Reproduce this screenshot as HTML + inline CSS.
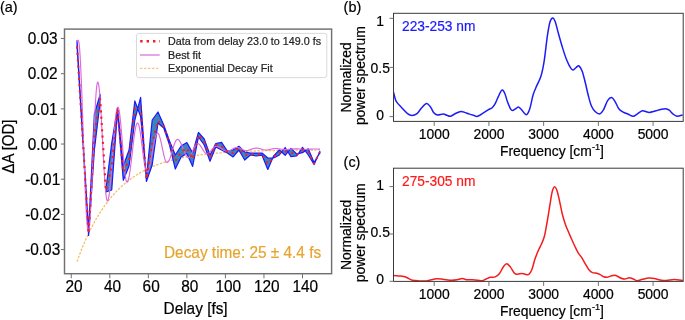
<!DOCTYPE html>
<html><head><meta charset="utf-8"><style>
html,body{margin:0;padding:0;background:#fff;}
#w{width:685px;height:320px;will-change:transform;}
svg{display:block;}
text{font-family:"Liberation Sans", sans-serif;stroke:#000;stroke-width:0.2px;}
.ta{font-size:15.4px;}
.tb{font-size:13.9px;}
.tl{font-size:10.75px;}
.tg{font-size:14.4px;}
.tt{font-size:13.75px;}
</style></head><body><div id="w">
<svg width="685" height="320" viewBox="0 0 685 320">
<rect width="685" height="320" fill="#fff"/>
<defs><clipPath id="ca"><rect x="64.5" y="28.75" width="267.1" height="244.75"/></clipPath></defs>
<g clip-path="url(#ca)">
<polyline points="77.00,261.61 78.00,258.85 79.00,256.15 80.00,253.52 81.00,250.96 82.00,248.46 83.00,246.02 84.00,243.64 85.00,241.32 86.00,239.06 87.00,236.85 88.00,234.70 89.00,232.60 90.00,230.56 91.00,228.56 92.00,226.61 93.00,224.71 94.00,222.86 95.00,221.06 96.00,219.29 97.00,217.58 98.00,215.90 99.00,214.27 100.00,212.67 101.00,211.12 102.00,209.60 103.00,208.12 104.00,206.68 105.00,205.27 106.00,203.90 107.00,202.56 108.00,201.26 109.00,199.99 110.00,198.75 111.00,197.53 112.00,196.35 113.00,195.20 114.00,194.08 115.00,192.98 116.00,191.92 117.00,190.87 118.00,189.86 119.00,188.87 120.00,187.90 121.00,186.96 122.00,186.04 123.00,185.14 124.00,184.27 125.00,183.41 126.00,182.58 127.00,181.77 128.00,180.98 129.00,180.21 130.00,179.46 131.00,178.72 132.00,178.01 133.00,177.31 134.00,176.63 135.00,175.96 136.00,175.31 137.00,174.68 138.00,174.07 139.00,173.47 140.00,172.88 141.00,172.31 142.00,171.75 143.00,171.21 144.00,170.68 145.00,170.16 146.00,169.66 147.00,169.16 148.00,168.68 149.00,168.22 150.00,167.76 151.00,167.31 152.00,166.88 153.00,166.46 154.00,166.04 155.00,165.64 156.00,165.25 157.00,164.86 158.00,164.49 159.00,164.13 160.00,163.77 161.00,163.42 162.00,163.09 163.00,162.76 164.00,162.44 165.00,162.12 166.00,161.82 167.00,161.52 168.00,161.23 169.00,160.94 170.00,160.67 171.00,160.40 172.00,160.13 173.00,159.88 174.00,159.63 175.00,159.38 176.00,159.14 177.00,158.91 178.00,158.68 179.00,158.46 180.00,158.25 181.00,158.04 182.00,157.83 183.00,157.63 184.00,157.44 185.00,157.25 186.00,157.06 187.00,156.88 188.00,156.71 189.00,156.53 190.00,156.37 191.00,156.20 192.00,156.04 193.00,155.89 194.00,155.73 195.00,155.59 196.00,155.44 197.00,155.30 198.00,155.16 199.00,155.03 200.00,154.90 201.00,154.77 202.00,154.65 203.00,154.53 204.00,154.41 205.00,154.29 206.00,154.18 207.00,154.07 208.00,153.96 209.00,153.86 210.00,153.76 211.00,153.66 212.00,153.56 213.00,153.47 214.00,153.38 215.00,153.29 216.00,153.20 217.00,153.11 218.00,153.03 219.00,152.95 220.00,152.87 221.00,152.79 222.00,152.72 223.00,152.64 224.00,152.57 225.00,152.50 226.00,152.43 227.00,152.37 228.00,152.30 229.00,152.24 230.00,152.18 231.00,152.12 232.00,152.06 233.00,152.00 234.00,151.94 235.00,151.89 236.00,151.84 237.00,151.78 238.00,151.73 239.00,151.69 240.00,151.64 241.00,151.59 242.00,151.54 243.00,151.50 244.00,151.46 245.00,151.41 246.00,151.37 247.00,151.33 248.00,151.29 249.00,151.25 250.00,151.22 251.00,151.18 252.00,151.15 253.00,151.11 254.00,151.08 255.00,151.04 256.00,151.01 257.00,150.98 258.00,150.95 259.00,150.92 260.00,150.89 261.00,150.86 262.00,150.83 263.00,150.81 264.00,150.78 265.00,150.76 266.00,150.73 267.00,150.71 268.00,150.68 269.00,150.66 270.00,150.64 271.00,150.61 272.00,150.59 273.00,150.57 274.00,150.55 275.00,150.53 276.00,150.51 277.00,150.49 278.00,150.47 279.00,150.46 280.00,150.44 281.00,150.42 282.00,150.40 283.00,150.39 284.00,150.37 285.00,150.36 286.00,150.34 287.00,150.33 288.00,150.31 289.00,150.30 290.00,150.28 291.00,150.27 292.00,150.26 293.00,150.24 294.00,150.23 295.00,150.22 296.00,150.21 297.00,150.20 298.00,150.18 299.00,150.17 300.00,150.16 301.00,150.15 302.00,150.14 303.00,150.13 304.00,150.12 305.00,150.11 306.00,150.10 307.00,150.10 308.00,150.09 309.00,150.08 310.00,150.07 311.00,150.06 312.00,150.05 313.00,150.05 314.00,150.04 315.00,150.03 316.00,150.02 317.00,150.02 318.00,150.01 319.00,150.00 320.00,150.00" fill="none" stroke="#f2b860" stroke-width="1.2" stroke-dasharray="2.4,1.4"/>
<polygon points="77.03,40.70 82.81,137.00 88.59,231.00 94.37,114.00 100.15,94.50 100.15,101.80 94.37,150.00 88.59,235.50 82.81,141.00 77.03,46.00" fill="#3d83bf" stroke="#1a1aff" stroke-width="1.2" stroke-linejoin="round"/>
<polygon points="105.94,189.00 111.72,143.00 117.50,107.80 123.28,166.00 129.06,150.00 134.84,100.90 140.62,116.50 146.40,178.00 152.19,120.00 157.97,112.00 163.75,125.00 169.53,141.00 175.31,155.00 181.09,146.00 186.87,142.60 192.65,153.00 198.44,132.30 204.22,139.00 210.00,155.00 215.78,143.50 221.56,142.30 227.34,151.00 233.12,150.00 238.90,146.25 244.68,152.00 250.47,153.10 256.25,153.10 262.03,153.00 267.81,158.00 273.59,158.00 279.37,155.00 285.15,147.50 290.93,156.60 296.72,156.00 302.50,147.40 308.28,155.00 314.06,164.50 319.84,151.40 319.84,153.00 314.06,162.50 308.28,148.75 302.50,152.70 296.72,154.00 290.93,148.40 285.15,155.30 279.37,150.00 273.59,156.00 267.81,169.50 262.03,155.20 256.25,156.00 250.47,155.00 244.68,160.00 238.90,150.00 233.12,156.90 227.34,153.00 221.56,150.00 215.78,147.00 210.00,161.25 204.22,145.00 198.44,137.00 192.65,166.50 186.87,153.50 181.09,157.00 175.31,169.00 169.53,145.00 163.75,128.00 157.97,123.00 152.19,165.00 146.40,181.50 140.62,97.30 134.84,120.00 129.06,166.00 123.28,180.30 117.50,111.00 111.72,190.00 105.94,192.00" fill="#3d83bf" stroke="#1a1aff" stroke-width="1.2" stroke-linejoin="round"/>
<polyline points="77.00,41.50 77.62,40.85 78.25,40.20 78.75,41.37 79.25,44.87 79.76,50.60 80.26,58.42 80.76,68.14 81.27,79.53 81.77,92.29 82.27,106.12 82.77,120.68 83.28,135.60 83.78,150.52 84.28,165.08 84.78,178.91 85.28,191.67 85.79,203.06 86.29,212.78 86.79,220.60 87.30,226.33 87.80,229.83 88.30,231.00 88.83,229.87 89.35,226.51 89.88,221.02 90.40,213.57 90.92,204.39 91.45,193.75 91.97,181.98 92.50,169.44 93.03,156.50 93.55,143.56 94.08,131.02 94.60,119.25 95.12,108.61 95.65,99.43 96.17,91.98 96.70,86.49 97.22,83.13 97.75,82.00 98.26,82.81 98.77,85.22 99.27,89.17 99.78,94.55 100.29,101.20 100.80,108.96 101.31,117.60 101.81,126.89 102.32,136.59 102.83,146.41 103.34,156.11 103.84,165.40 104.35,174.04 104.86,181.80 105.37,188.45 105.88,193.83 106.38,197.78 106.89,200.19 107.40,201.00 107.90,200.48 108.40,198.91 108.90,196.35 109.40,192.84 109.90,188.47 110.40,183.32 110.90,177.53 111.40,171.20 111.90,164.50 112.40,157.56 112.90,150.54 113.40,143.60 113.90,136.90 114.40,130.57 114.90,124.78 115.40,119.63 115.90,115.26 116.40,111.75 116.90,109.19 117.40,107.62 117.90,107.10 118.41,107.67 118.91,109.36 119.42,112.13 119.92,115.89 120.43,120.51 120.93,125.87 121.44,131.81 121.94,138.13 122.45,144.65 122.96,151.17 123.46,157.49 123.97,163.42 124.47,168.79 124.98,173.41 125.48,177.17 125.99,179.94 126.49,181.63 127.00,182.20 127.50,181.87 128.00,180.88 128.50,179.27 129.00,177.06 129.50,174.30 130.00,171.06 130.50,167.40 131.00,163.41 131.50,159.19 132.00,154.81 132.50,150.39 133.00,146.01 133.50,141.79 134.00,137.80 134.50,134.14 135.00,130.90 135.50,128.14 136.00,125.93 136.50,124.32 137.00,123.33 137.50,123.00 138.00,123.33 138.50,124.33 139.00,125.95 139.50,128.17 140.00,130.91 140.50,134.10 141.00,137.66 141.50,141.49 142.00,145.48 142.50,149.52 143.00,153.51 143.50,157.34 144.00,160.90 144.50,164.09 145.00,166.83 145.50,169.05 146.00,170.67 146.50,171.67 147.00,172.00 147.50,171.78 148.00,171.14 148.50,170.07 149.00,168.62 149.50,166.81 150.00,164.68 150.50,162.28 151.00,159.66 151.50,156.88 152.00,154.00 152.50,151.10 153.00,148.22 153.50,145.44 154.00,142.82 154.50,140.42 155.00,138.29 155.50,136.48 156.00,135.03 156.50,133.96 157.00,133.32 157.50,133.10 158.00,133.30 158.50,133.90 159.00,134.87 159.50,136.20 160.00,137.84 160.50,139.76 161.00,141.90 161.50,144.19 162.00,146.59 162.50,149.01 163.00,151.41 163.50,153.70 164.00,155.84 164.50,157.76 165.00,159.40 165.50,160.73 166.00,161.70 166.50,162.30 167.00,162.50 167.50,162.37 168.00,161.99 168.50,161.36 169.00,160.49 169.50,159.42 170.00,158.15 170.50,156.72 171.00,155.17 171.50,153.52 172.00,151.81 172.50,150.09 173.00,148.38 173.50,146.73 174.00,145.18 174.50,143.75 175.00,142.48 175.50,141.41 176.00,140.54 176.50,139.91 177.00,139.53 177.50,139.40 178.00,139.49 178.50,139.77 179.00,140.22 179.50,140.84 180.00,141.61 180.50,142.52 181.00,143.56 181.50,144.69 182.00,145.90 182.50,147.16 183.00,148.45 183.50,149.74 184.00,151.00 184.50,152.21 185.00,153.34 185.50,154.38 186.00,155.29 186.50,156.06 187.00,156.68 187.50,157.13 188.00,157.41 188.50,157.50 189.00,157.39 189.50,157.08 190.00,156.56 190.50,155.86 191.00,155.00 191.50,154.00 192.00,152.89 192.50,151.72 193.00,150.50 193.50,149.28 194.00,148.11 194.50,147.00 195.00,146.00 195.50,145.14 196.00,144.44 196.50,143.92 197.00,143.61 197.50,143.50 198.00,143.57 198.50,143.78 199.00,144.12 199.50,144.58 200.00,145.15 200.50,145.82 201.00,146.57 201.50,147.37 202.00,148.20 202.50,149.05 203.00,149.88 203.50,150.68 204.00,151.43 204.50,152.10 205.00,152.67 205.50,153.13 206.00,153.47 206.50,153.68 207.00,153.75 207.51,153.69 208.03,153.52 208.54,153.25 209.06,152.87 209.57,152.41 210.08,151.88 210.60,151.28 211.11,150.65 211.62,150.00 212.14,149.35 212.65,148.72 213.17,148.12 213.68,147.59 214.19,147.13 214.71,146.75 215.22,146.48 215.74,146.31 216.25,146.25 216.76,146.28 217.27,146.36 217.79,146.50 218.30,146.68 218.81,146.92 219.32,147.19 219.83,147.50 220.35,147.84 220.86,148.19 221.37,148.56 221.88,148.94 222.39,149.31 222.90,149.66 223.42,150.00 223.93,150.31 224.44,150.58 224.95,150.82 225.46,151.00 225.98,151.14 226.49,151.22 227.00,151.25 227.50,151.23 228.00,151.16 228.50,151.05 229.00,150.89 229.50,150.70 230.00,150.48 230.50,150.23 231.00,149.95 231.50,149.67 232.00,149.38 232.50,149.08 233.00,148.80 233.50,148.52 234.00,148.27 234.50,148.05 235.00,147.86 235.50,147.70 236.00,147.59 236.50,147.52 237.00,147.50 237.50,147.52 238.00,147.59 238.50,147.71 239.00,147.86 239.50,148.05 240.00,148.28 240.50,148.52 241.00,148.78 241.50,149.05 242.00,149.32 242.50,149.58 243.00,149.82 243.50,150.05 244.00,150.24 244.50,150.39 245.00,150.51 245.50,150.58 246.00,150.60 246.51,150.58 247.03,150.54 247.54,150.46 248.05,150.36 248.56,150.23 249.07,150.08 249.59,149.92 250.10,149.74 250.61,149.55 251.12,149.35 251.64,149.15 252.15,148.96 252.66,148.78 253.18,148.62 253.69,148.47 254.20,148.34 254.71,148.24 255.22,148.16 255.74,148.12 256.25,148.10 256.76,148.11 257.28,148.15 257.79,148.21 258.30,148.30 258.82,148.41 259.33,148.53 259.84,148.67 260.36,148.82 260.87,148.97 261.38,149.13 261.89,149.28 262.41,149.43 262.92,149.57 263.43,149.69 263.95,149.80 264.46,149.89 264.97,149.95 265.49,149.99 266.00,150.00 266.51,149.99 267.01,149.96 267.52,149.91 268.02,149.84 268.53,149.76 269.03,149.66 269.54,149.55 270.04,149.43 270.55,149.31 271.05,149.19 271.56,149.07 272.06,148.95 272.57,148.84 273.07,148.74 273.58,148.66 274.08,148.59 274.59,148.54 275.09,148.51 275.60,148.50 276.12,148.51 276.64,148.53 277.17,148.57 277.69,148.63 278.21,148.70 278.73,148.78 279.26,148.86 279.78,148.95 280.30,149.05 280.82,149.15 281.34,149.24 281.87,149.32 282.39,149.40 282.91,149.47 283.43,149.53 283.96,149.57 284.48,149.59 285.00,149.60 285.50,149.60 286.00,149.58 286.50,149.56 287.00,149.52 287.50,149.48 288.00,149.44 288.50,149.38 289.00,149.32 289.50,149.26 290.00,149.20 290.50,149.14 291.00,149.08 291.50,149.02 292.00,148.96 292.50,148.92 293.00,148.88 293.50,148.84 294.00,148.82 294.50,148.80 295.00,148.80 295.50,148.80 296.00,148.81 296.50,148.83 297.00,148.85 297.50,148.87 298.00,148.90 298.50,148.94 299.00,148.97 299.50,149.01 300.00,149.05 300.50,149.09 301.00,149.13 301.50,149.16 302.00,149.20 302.50,149.23 303.00,149.25 303.50,149.27 304.00,149.29 304.50,149.30 305.00,149.30 305.50,149.30 306.00,149.29 306.50,149.28 307.00,149.27 307.50,149.26 308.00,149.24 308.50,149.22 309.00,149.20 309.50,149.17 310.00,149.15 310.50,149.13 311.00,149.10 311.50,149.08 312.00,149.06 312.50,149.04 313.00,149.03 313.50,149.02 314.00,149.01 314.50,149.00 315.00,149.00 315.50,149.00 316.00,149.01 316.50,149.02 317.00,149.03 317.50,149.05 318.00,149.07 318.50,149.08 319.00,149.09 319.50,149.10 320.00,149.10" fill="none" stroke="#dd68dc" stroke-width="1.15" stroke-linejoin="round"/>
<polyline points="77.03,46.50 82.81,139.00 88.59,233.50 94.37,135.00 100.15,99.00 105.94,190.50 111.72,166.00 117.50,109.00 123.28,172.00 129.06,160.00 134.84,108.00 140.62,108.00 146.40,179.00 152.19,143.00 157.97,121.00 163.75,126.50 169.53,143.00 175.31,161.00 181.09,152.00 186.87,148.00 192.65,159.00 198.44,135.00 204.22,142.00 210.00,158.00 215.78,145.00 221.56,146.00 227.34,152.00 233.12,153.00 238.90,148.00 244.68,155.00 250.47,154.00 256.25,154.50 262.03,154.20 267.81,164.00 273.59,157.00 279.37,152.50 285.15,151.40 290.93,152.50 296.72,155.00 302.50,150.00 308.28,152.00 314.06,163.50 319.84,152.20" fill="none" stroke="#f02020" stroke-width="2.1" stroke-dasharray="2.1,4.2" stroke-linejoin="round"/>
</g>
<rect x="136.5" y="33.4" width="190.3" height="44.2" rx="2.5" ry="2.5" fill="#fff" fill-opacity="0.8" stroke="#d6d6d6" stroke-width="0.9"/>
<line x1="140.2" y1="41.3" x2="160" y2="41.3" stroke="#f51c1c" stroke-width="2.4" stroke-dasharray="2.4,4.0"/>
<line x1="139.9" y1="55" x2="159.7" y2="55" stroke="#dc74dc" stroke-width="1.3"/>
<line x1="139.9" y1="68.4" x2="159.7" y2="68.4" stroke="#f5c585" stroke-width="1.2" stroke-dasharray="2.5,1.5"/>
<text x="168.1" y="45.2" class="tl" style="fill:#222;stroke:#222">Data from delay 23.0 to 149.0 fs</text>
<text x="168.1" y="58.9" class="tl" style="fill:#222;stroke:#222">Best fit</text>
<text x="168.1" y="71.95" class="tl" style="fill:#222;stroke:#222">Exponential Decay Fit</text>
<rect x="64.5" y="29.1" width="267.1" height="244.6" fill="none" stroke="#707070" stroke-width="1.45"/>
<line x1="60.9" y1="38.50" x2="64.5" y2="38.50" stroke="#707070" stroke-width="1"/>
<text transform="translate(42.70,44.30) scale(1,1.05)" text-anchor="middle" class="ta">0.03</text>
<line x1="60.9" y1="73.68" x2="64.5" y2="73.68" stroke="#707070" stroke-width="1"/>
<text transform="translate(42.70,79.48) scale(1,1.05)" text-anchor="middle" class="ta">0.02</text>
<line x1="60.9" y1="108.86" x2="64.5" y2="108.86" stroke="#707070" stroke-width="1"/>
<text transform="translate(42.70,114.66) scale(1,1.05)" text-anchor="middle" class="ta">0.01</text>
<line x1="60.9" y1="144.04" x2="64.5" y2="144.04" stroke="#707070" stroke-width="1"/>
<text transform="translate(42.70,149.84) scale(1,1.05)" text-anchor="middle" class="ta">0.00</text>
<line x1="60.9" y1="179.22" x2="64.5" y2="179.22" stroke="#707070" stroke-width="1"/>
<text transform="translate(42.70,185.02) scale(1,1.05)" text-anchor="middle" class="ta">-0.01</text>
<line x1="60.9" y1="214.40" x2="64.5" y2="214.40" stroke="#707070" stroke-width="1"/>
<text transform="translate(42.70,220.20) scale(1,1.05)" text-anchor="middle" class="ta">-0.02</text>
<line x1="60.9" y1="249.58" x2="64.5" y2="249.58" stroke="#707070" stroke-width="1"/>
<text transform="translate(42.70,255.38) scale(1,1.05)" text-anchor="middle" class="ta">-0.03</text>
<line x1="71.25" y1="273.7" x2="71.25" y2="278.3" stroke="#707070" stroke-width="1"/>
<text transform="translate(74.05,291.90) scale(1,1.05)" text-anchor="middle" class="ta">20</text>
<line x1="109.79" y1="273.7" x2="109.79" y2="278.3" stroke="#707070" stroke-width="1"/>
<text transform="translate(112.59,291.90) scale(1,1.05)" text-anchor="middle" class="ta">40</text>
<line x1="148.33" y1="273.7" x2="148.33" y2="278.3" stroke="#707070" stroke-width="1"/>
<text transform="translate(151.13,291.90) scale(1,1.05)" text-anchor="middle" class="ta">60</text>
<line x1="186.88" y1="273.7" x2="186.88" y2="278.3" stroke="#707070" stroke-width="1"/>
<text transform="translate(189.68,291.90) scale(1,1.05)" text-anchor="middle" class="ta">80</text>
<line x1="225.42" y1="273.7" x2="225.42" y2="278.3" stroke="#707070" stroke-width="1"/>
<text transform="translate(228.22,291.90) scale(1,1.05)" text-anchor="middle" class="ta">100</text>
<line x1="263.96" y1="273.7" x2="263.96" y2="278.3" stroke="#707070" stroke-width="1"/>
<text transform="translate(266.76,291.90) scale(1,1.05)" text-anchor="middle" class="ta">120</text>
<line x1="302.50" y1="273.7" x2="302.50" y2="278.3" stroke="#707070" stroke-width="1"/>
<text transform="translate(305.30,291.90) scale(1,1.05)" text-anchor="middle" class="ta">140</text>
<text transform="translate(195.60,313.60) scale(1,1.05)" text-anchor="middle" class="ta">Delay [fs]</text>
<text transform="translate(14.40,146.60) rotate(-90) scale(1,1.05)" text-anchor="middle" class="ta" style="font-size:14.95px">ΔA [OD]</text>
<text transform="translate(164.00,257.90) scale(1,1.05)" class="ta" style="fill:#e6a531;stroke:#e6a531">Decay time: 25 ± 4.4 fs</text>
<text transform="translate(0.00,11.60)" class="tg">(a)</text>
<path d="M393.60,92.40 C393.83,93.33 394.50,96.42 395.00,98.00 C395.50,99.58 395.48,100.28 396.60,101.90 C397.72,103.52 399.88,105.75 401.70,107.70 C403.52,109.65 405.80,112.30 407.50,113.60 C409.20,114.90 410.32,115.50 411.90,115.50 C413.48,115.50 415.40,114.85 417.00,113.60 C418.60,112.35 419.92,109.70 421.50,108.00 C423.08,106.30 425.00,103.57 426.50,103.40 C428.00,103.23 429.28,105.43 430.50,107.00 C431.72,108.57 432.65,111.47 433.80,112.80 C434.95,114.13 435.82,114.80 437.40,115.00 C438.98,115.20 441.72,113.95 443.30,114.00 C444.88,114.05 445.68,114.93 446.90,115.30 C448.12,115.67 449.17,116.50 450.60,116.20 C452.03,115.90 453.80,114.30 455.50,113.50 C457.20,112.70 459.18,111.55 460.80,111.40 C462.42,111.25 463.87,112.18 465.20,112.60 C466.53,113.02 467.42,113.45 468.80,113.90 C470.18,114.35 472.03,114.90 473.50,115.30 C474.97,115.70 475.83,116.78 477.60,116.30 C479.37,115.82 482.35,113.48 484.10,112.40 C485.85,111.32 486.75,110.58 488.10,109.80 C489.45,109.02 491.02,108.72 492.20,107.70 C493.38,106.68 494.18,105.55 495.20,103.70 C496.22,101.85 497.18,98.87 498.30,96.60 C499.42,94.33 500.82,90.62 501.90,90.10 C502.98,89.58 503.88,91.58 504.80,93.50 C505.72,95.42 506.45,99.05 507.40,101.60 C508.35,104.15 509.58,107.33 510.50,108.80 C511.42,110.27 511.95,110.48 512.90,110.40 C513.85,110.32 515.25,108.85 516.20,108.30 C517.15,107.75 517.70,106.85 518.60,107.10 C519.50,107.35 520.32,108.52 521.60,109.80 C522.88,111.08 524.93,114.97 526.30,114.80 C527.67,114.63 528.65,112.18 529.80,108.80 C530.95,105.42 532.02,98.40 533.20,94.50 C534.38,90.60 535.60,88.48 536.90,85.40 C538.20,82.32 539.78,80.10 541.00,76.00 C542.22,71.90 543.15,67.40 544.20,60.80 C545.25,54.20 546.35,42.83 547.30,36.40 C548.25,29.97 548.98,25.27 549.90,22.20 C550.82,19.13 551.88,18.00 552.80,18.00 C553.72,18.00 554.47,19.63 555.40,22.20 C556.33,24.77 557.22,29.17 558.40,33.40 C559.58,37.63 561.13,43.20 562.50,47.60 C563.87,52.00 565.25,56.42 566.60,59.80 C567.95,63.18 569.52,66.22 570.60,67.90 C571.68,69.58 572.15,70.00 573.10,69.90 C574.05,69.80 575.32,67.95 576.30,67.30 C577.28,66.65 578.02,65.35 579.00,66.00 C579.98,66.65 581.17,68.48 582.20,71.20 C583.23,73.92 584.18,78.25 585.20,82.30 C586.22,86.35 587.28,91.60 588.30,95.50 C589.32,99.40 590.12,102.98 591.30,105.70 C592.48,108.42 593.93,110.45 595.40,111.80 C596.87,113.15 598.75,114.13 600.10,113.80 C601.45,113.47 602.25,112.00 603.50,109.80 C604.75,107.60 606.25,102.63 607.60,100.60 C608.95,98.57 610.35,97.43 611.60,97.60 C612.85,97.77 613.90,99.73 615.10,101.60 C616.30,103.47 617.45,107.03 618.80,108.80 C620.15,110.57 621.63,111.30 623.20,112.20 C624.77,113.10 626.53,113.52 628.20,114.20 C629.87,114.88 631.67,116.37 633.20,116.30 C634.73,116.23 635.88,114.73 637.40,113.80 C638.92,112.87 640.83,111.03 642.30,110.70 C643.77,110.37 645.00,111.52 646.20,111.80 C647.40,112.08 648.00,112.53 649.50,112.40 C651.00,112.27 653.32,111.48 655.20,111.00 C657.08,110.52 659.05,109.87 660.80,109.50 C662.55,109.13 664.30,108.68 665.70,108.80 C667.10,108.92 668.02,109.37 669.20,110.20 C670.38,111.03 671.50,112.80 672.80,113.80 C674.10,114.80 675.37,116.02 677.00,116.20 C678.63,116.38 681.67,115.12 682.60,114.90" fill="none" stroke="#1c1cf6" stroke-width="1.5" stroke-linejoin="round"/>
<rect x="393.5" y="13.3" width="289.70000000000005" height="108.10000000000001" fill="none" stroke="#3a3a3a" stroke-width="1"/>
<line x1="389.5" y1="18.3" x2="393.5" y2="18.3" stroke="#707070" stroke-width="1"/>
<line x1="389.5" y1="67.4" x2="393.5" y2="67.4" stroke="#707070" stroke-width="1"/>
<line x1="389.5" y1="116.6" x2="393.5" y2="116.6" stroke="#707070" stroke-width="1"/>
<text transform="translate(380.20,25.80)" text-anchor="middle" class="tb">1</text>
<text transform="translate(380.20,73.00)" text-anchor="middle" class="tb">0.5</text>
<text transform="translate(380.20,119.90)" text-anchor="middle" class="tb">0</text>
<line x1="434.20" y1="121.4" x2="434.20" y2="125.9" stroke="#707070" stroke-width="1"/>
<text transform="translate(434.20,138.80)" text-anchor="middle" class="tb">1000</text>
<line x1="488.92" y1="121.4" x2="488.92" y2="125.9" stroke="#707070" stroke-width="1"/>
<text transform="translate(488.92,138.80)" text-anchor="middle" class="tb">2000</text>
<line x1="543.64" y1="121.4" x2="543.64" y2="125.9" stroke="#707070" stroke-width="1"/>
<text transform="translate(543.64,138.80)" text-anchor="middle" class="tb">3000</text>
<line x1="598.36" y1="121.4" x2="598.36" y2="125.9" stroke="#707070" stroke-width="1"/>
<text transform="translate(598.36,138.80)" text-anchor="middle" class="tb">4000</text>
<line x1="653.08" y1="121.4" x2="653.08" y2="125.9" stroke="#707070" stroke-width="1"/>
<text transform="translate(653.08,138.80)" text-anchor="middle" class="tb">5000</text>
<text transform="translate(500.00,156.20)" class="tb">Frequency [cm<tspan dy="-5.8" font-size="9.2">-1</tspan><tspan dy="5.8">]</tspan></text>
<text transform="translate(402.00,31.00)" class="tt" style="fill:#1a1aff;stroke:#1a1aff">223-253 nm</text>
<text transform="translate(343.60,11.80)" class="tg">(b)</text>
<text transform="translate(351.40,77.40) rotate(-90)" text-anchor="middle" class="tb">Normalized</text>
<text transform="translate(364.70,75.70) rotate(-90)" text-anchor="middle" class="tb">power spectrum</text>
<path d="M393.40,275.50 C394.27,275.58 396.88,275.85 398.60,276.00 C400.32,276.15 402.27,276.10 403.70,276.40 C405.13,276.70 405.77,277.17 407.20,277.80 C408.63,278.43 410.30,279.68 412.30,280.20 C414.30,280.72 416.90,280.78 419.20,280.90 C421.50,281.02 424.10,281.08 426.10,280.90 C428.10,280.72 429.48,280.15 431.20,279.80 C432.92,279.45 434.68,278.93 436.40,278.80 C438.12,278.67 439.78,278.83 441.50,279.00 C443.22,279.17 444.97,279.58 446.70,279.80 C448.43,280.02 450.18,280.30 451.90,280.30 C453.62,280.30 455.28,280.08 457.00,279.80 C458.72,279.52 460.48,278.60 462.20,278.60 C463.92,278.60 465.58,279.60 467.30,279.80 C469.02,280.00 470.78,279.73 472.50,279.80 C474.22,279.87 475.97,280.03 477.60,280.20 C479.23,280.37 480.87,281.00 482.30,280.80 C483.73,280.60 484.88,279.58 486.20,279.00 C487.52,278.42 488.70,277.65 490.20,277.30 C491.70,276.95 493.68,277.48 495.20,276.90 C496.72,276.32 497.93,275.50 499.30,273.80 C500.67,272.10 502.15,268.38 503.40,266.70 C504.65,265.02 505.62,263.63 506.80,263.70 C507.98,263.77 509.22,265.52 510.50,267.10 C511.78,268.68 513.32,272.02 514.50,273.20 C515.68,274.38 516.42,274.17 517.60,274.20 C518.78,274.23 520.35,273.40 521.60,273.40 C522.85,273.40 523.90,274.03 525.10,274.20 C526.30,274.37 527.68,275.13 528.80,274.40 C529.92,273.67 530.80,272.27 531.80,269.80 C532.80,267.33 533.70,262.85 534.80,259.60 C535.90,256.35 537.27,252.93 538.40,250.30 C539.53,247.67 540.60,246.13 541.60,243.80 C542.60,241.47 543.57,239.43 544.40,236.30 C545.23,233.17 545.92,228.75 546.60,225.00 C547.28,221.25 547.93,217.23 548.50,213.80 C549.07,210.37 549.50,207.53 550.00,204.40 C550.50,201.27 551.03,197.48 551.50,195.00 C551.97,192.52 552.27,190.88 552.80,189.50 C553.33,188.12 554.02,186.58 554.70,186.70 C555.38,186.82 556.12,187.93 556.90,190.20 C557.68,192.47 558.48,196.25 559.40,200.30 C560.32,204.35 561.38,210.43 562.40,214.50 C563.42,218.57 564.48,221.78 565.50,224.70 C566.52,227.62 567.58,229.83 568.50,232.00 C569.42,234.17 570.00,235.45 571.00,237.70 C572.00,239.95 573.35,243.07 574.50,245.50 C575.65,247.93 576.62,250.15 577.90,252.30 C579.18,254.45 580.92,256.38 582.20,258.40 C583.48,260.42 584.45,262.48 585.60,264.40 C586.75,266.32 587.95,268.53 589.10,269.90 C590.25,271.27 591.22,272.03 592.50,272.60 C593.78,273.17 595.52,272.95 596.80,273.30 C598.08,273.65 599.05,274.12 600.20,274.70 C601.35,275.28 602.55,276.37 603.70,276.80 C604.85,277.23 605.97,277.42 607.10,277.30 C608.23,277.18 609.22,276.45 610.50,276.10 C611.78,275.75 613.50,275.08 614.80,275.20 C616.10,275.32 617.15,276.25 618.30,276.80 C619.45,277.35 620.58,278.13 621.70,278.50 C622.82,278.87 623.72,279.13 625.00,279.00 C626.28,278.87 628.03,277.70 629.40,277.70 C630.77,277.70 631.93,278.50 633.20,279.00 C634.47,279.50 635.45,280.65 637.00,280.70 C638.55,280.75 640.50,279.75 642.50,279.30 C644.50,278.85 647.00,278.13 649.00,278.00 C651.00,277.87 652.67,278.18 654.50,278.50 C656.33,278.82 658.00,279.58 660.00,279.90 C662.00,280.22 664.13,280.45 666.50,280.40 C668.87,280.35 671.47,279.60 674.20,279.60 C676.93,279.60 681.45,280.27 682.90,280.40" fill="none" stroke="#f41c1c" stroke-width="1.5" stroke-linejoin="round"/>
<rect x="393.5" y="168.2" width="289.70000000000005" height="113.19999999999999" fill="none" stroke="#3a3a3a" stroke-width="1"/>
<line x1="389.5" y1="186.6" x2="393.5" y2="186.6" stroke="#707070" stroke-width="1"/>
<line x1="389.5" y1="234.0" x2="393.5" y2="234.0" stroke="#707070" stroke-width="1"/>
<line x1="389.5" y1="281.3" x2="393.5" y2="281.3" stroke="#707070" stroke-width="1"/>
<text transform="translate(380.20,189.90)" text-anchor="middle" class="tb">1</text>
<text transform="translate(380.20,237.30)" text-anchor="middle" class="tb">0.5</text>
<text transform="translate(380.20,284.40)" text-anchor="middle" class="tb">0</text>
<line x1="434.20" y1="281.4" x2="434.20" y2="285.9" stroke="#707070" stroke-width="1"/>
<text transform="translate(434.20,298.80)" text-anchor="middle" class="tb">1000</text>
<line x1="488.92" y1="281.4" x2="488.92" y2="285.9" stroke="#707070" stroke-width="1"/>
<text transform="translate(488.92,298.80)" text-anchor="middle" class="tb">2000</text>
<line x1="543.64" y1="281.4" x2="543.64" y2="285.9" stroke="#707070" stroke-width="1"/>
<text transform="translate(543.64,298.80)" text-anchor="middle" class="tb">3000</text>
<line x1="598.36" y1="281.4" x2="598.36" y2="285.9" stroke="#707070" stroke-width="1"/>
<text transform="translate(598.36,298.80)" text-anchor="middle" class="tb">4000</text>
<line x1="653.08" y1="281.4" x2="653.08" y2="285.9" stroke="#707070" stroke-width="1"/>
<text transform="translate(653.08,298.80)" text-anchor="middle" class="tb">5000</text>
<text transform="translate(500.00,316.20)" class="tb">Frequency [cm<tspan dy="-5.8" font-size="9.2">-1</tspan><tspan dy="5.8">]</tspan></text>
<text transform="translate(402.00,185.90)" class="tt" style="fill:#ff1a1a;stroke:#ff1a1a">275-305 nm</text>
<text transform="translate(343.60,167.40)" class="tg">(c)</text>
<text transform="translate(351.40,234.80) rotate(-90)" text-anchor="middle" class="tb">Normalized</text>
<text transform="translate(364.70,232.80) rotate(-90)" text-anchor="middle" class="tb">power spectrum</text>
</svg></div></body></html>
